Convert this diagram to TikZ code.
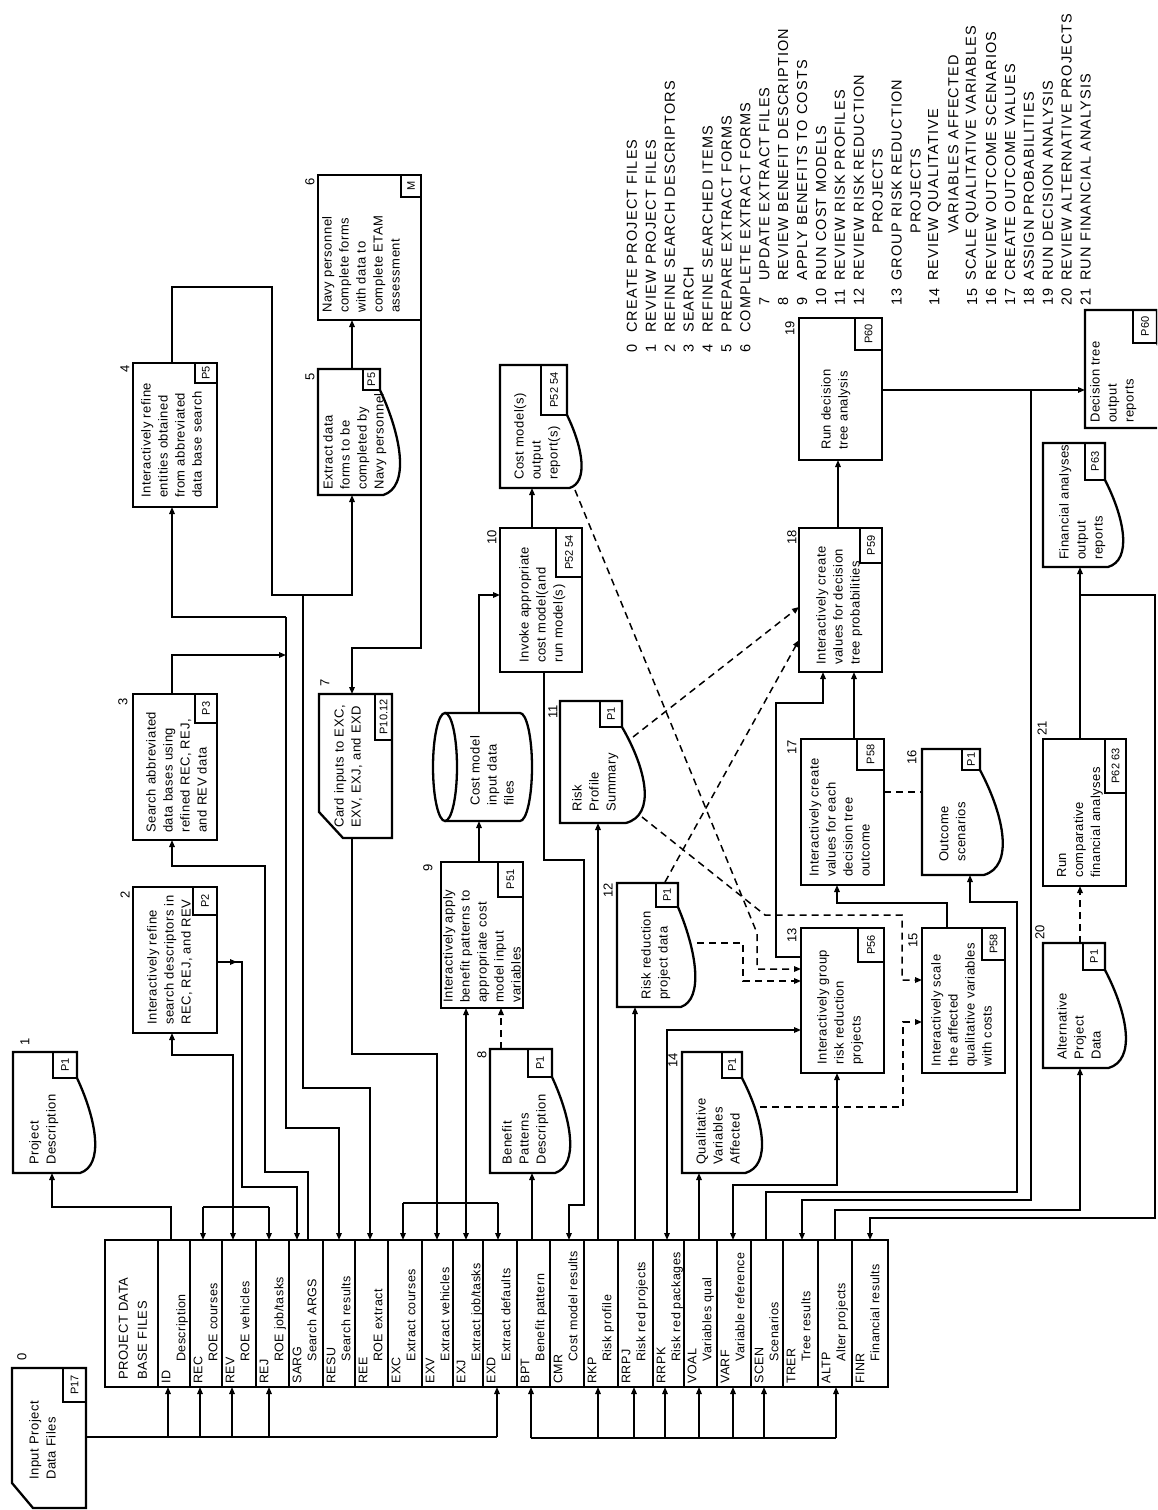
\documentclass[tikz,border=0pt]{standalone}
\usepackage{fontspec}
\setmainfont{Liberation Sans}
\newfontfamily\bxf[LetterSpace=4]{Liberation Sans}
\newfontfamily\lgf[LetterSpace=8]{Liberation Sans}
\usetikzlibrary{arrows.meta}
\tikzset{
  >={Triangle[length=7pt,width=5.5pt]},
  boxline/.style={line width=2.3pt, line join=miter},
  ghost/.style={inner sep=0pt, outer sep=0pt},
  bx/.style={draw, boxline, ghost},
  lblline/.style={line width=1.4pt},
  rot/.style={rotate=90, inner sep=0pt},
  btxt/.style={rot, anchor=north west, align=left, font=\bxf\fontsize{13}{17}\selectfont},
  ptxt/.style={rot, font=\fontsize{11}{11}\selectfont},
  ntxt/.style={rot, font=\fontsize{13}{13}\selectfont},
  dbtxt/.style={rot, anchor=north west, align=left, font=\bxf\fontsize{12.5}{15}\selectfont},
  hdtxt/.style={rot, anchor=north west, align=left, font=\bxf\fontsize{13}{19}\selectfont},
  ltxt/.style={rot, anchor=west, font=\lgf\fontsize{14.5}{19}\selectfont},
  ln/.style={line width=1.5pt},
  ar/.style={ln,->},
  arr/.style={ln,<->},
  dl/.style={ln,dash pattern=on 7pt off 5pt},
  dar/.style={dl,->},
}
\newcommand{\rbx}[5]{\node[bx, minimum width={#4-#2}, minimum height={#5-#3}] (#1) at ({(#2+#4)/2},{(#3+#5)/2}) {};}
\newcommand{\plab}[6]{\draw[lblline] (#2,#3) rectangle (#4,#5); \node[ptxt] (#1) at ({(#2+#4)/2},{(#3+#5)/2}) {#6};}
\newcommand{\docbx}[7]{%
 \draw[boxline] (#2,#3) -- (#4,#3) -- (#4,{#3+#6}) .. controls ({#4+#7},{#3+#6+0.45*(#5-#3-#6)}) and ({#4+1.35*#7},{#5-0.08*(#5-#3-#6)}) .. ({#4+0.15*#7},#5) -- (#2,#5) -- cycle;
 \node[ghost, minimum width={#4-#2}, minimum height={#5-#3}] (#1) at ({(#2+#4)/2},{(#3+#5)/2}) {};}
% legend line: index, number, text, text start, number start
\newcommand{\leg}[5]{\node[ltxt] (lg#1) at ({632+18.9*#1},#4) {#3}; \node[ltxt] (ln#1) at ({632+18.9*#1},#5) {#2};}
\newcommand{\legc}[3]{\node[ltxt] (lg#1) at ({632+18.9*#1},#3) {#2};}
\begin{document}
\begin{tikzpicture}[x=1pt,y=-1pt]
\useasboundingbox (0,0) rectangle (1157,1510);
\clip (0,0) rectangle (1157,1510);
\fill[white] (0,0) rectangle (1157,1510);

% ---------- legend ----------
\leg{0}{0}{CREATE PROJECT FILES}{333}{353}
\leg{1}{1}{REVIEW PROJECT FILES}{333}{353}
\leg{2}{2}{REFINE SEARCH DESCRIPTORS}{333}{353}
\leg{3}{3}{SEARCH}{333}{353}
\leg{4}{4}{REFINE SEARCHED ITEMS}{333}{353}
\leg{5}{5}{PREPARE EXTRACT FORMS}{333}{353}
\leg{6}{6}{COMPLETE EXTRACT FORMS}{333}{353}
\leg{7}{7}{UPDATE EXTRACT FILES}{281}{306}
\leg{8}{8}{REVIEW BENEFIT DESCRIPTION}{281}{306}
\leg{9}{9}{APPLY BENEFITS TO COSTS}{281}{306}
\leg{10}{10}{RUN COST MODELS}{281}{306}
\leg{11}{11}{REVIEW RISK PROFILES}{281}{306}
\leg{12}{12}{REVIEW RISK REDUCTION}{281}{306}
\legc{13}{PROJECTS}{234}
\leg{14}{13}{GROUP RISK REDUCTION}{281}{306}
\legc{15}{PROJECTS}{234}
\leg{16}{14}{REVIEW QUALITATIVE}{281}{306}
\legc{17}{VARIABLES AFFECTED}{234}
\leg{18}{15}{SCALE QUALITATIVE VARIABLES}{281}{306}
\leg{19}{16}{REVIEW OUTCOME SCENARIOS}{281}{306}
\leg{20}{17}{CREATE OUTCOME VALUES}{281}{306}
\leg{21}{18}{ASSIGN PROBABILITIES}{281}{306}
\leg{22}{19}{RUN DECISION ANALYSIS}{281}{306}
\leg{23}{20}{REVIEW ALTERNATIVE PROJECTS}{281}{306}
\leg{24}{21}{RUN FINANCIAL ANALYSIS}{281}{306}

% ---------- database ----------
\node[ghost, minimum width=53, minimum height=147] (dbh) at (131.5,1313.5) {};
\node[hdtxt] (dbht) at (118.5,1380) {PROJECT DATA\\BASE FILES};
\foreach \xa/\xb/\cd/\ds in {158/190/ID/Description,190/222/REC/ROE courses,222/256/REV/ROE vehicles,256/289/REJ/ROE job\slash tasks,289/323/SARG/Search ARGS,323/355/RESU/Search results,355/388/REE/ROE extract,388/422/EXC/Extract courses,422/453/EXV/Extract vehicles,453/483/EXJ/Extract job\slash tasks,483/517/EXD/Extract defaults,517/550/BPT/Benefit pattern,550/584/CMR/Cost model results,584/618/RKP/Risk profile,618/653/RRPJ/Risk red projects,653/684/RRPK/Risk red packages,684/717/VOAL/Variables qual,717/751/VARF/Variable reference,751/783/SCEN/Scenarios,783/818/TRER/Tree results,818/852/ALTP/Alter projects,852/888/FINR/Financial results}{
  \node[draw, line width=1.4pt, ghost, minimum width={\xb-\xa}, minimum height=147] (c\cd) at ({(\xa+\xb)/2},1313.5) {};
  \node[dbtxt] (t\cd) at ({\xa+3.5},1384) {\cd\\\hspace*{22pt}\ds};
}
\draw[boxline] (105,1240) rectangle (888,1387);

% ---------- box 0 ----------
\draw[boxline] (12,1368) -- (86,1368) -- (86,1508) -- (33,1508) -- (12,1483) -- cycle;
\node[ghost, minimum width=74, minimum height=140] (b0) at (49,1438) {};
\plab{b0p}{63}{1368}{86}{1402}{P17}
\node[btxt] (b0t) at (29,1480) {Input Project\\Data Files};
\node[ntxt] (n0) at (22,1357) {0};

% ---------- documents ----------
\docbx{b1}{13}{1052}{77}{1173}{26}{20}
\plab{b1p}{53}{1052}{77}{1078}{P1}
\node[btxt] (b1t) at (29,1165) {Project\\Description};
\node[ntxt] (n1) at (25,1042) {1};

\docbx{b5}{318}{369}{380}{495}{21}{22}
\plab{b5p}{363}{369}{380}{390}{P5}
\node[btxt] (b5t) at (323,490) {Extract data\\forms to be\\completed by\\Navy personnel};
\node[ntxt] (n5) at (310,377) {5};

\docbx{cost}{500}{365}{567}{488}{50}{16}
\plab{costp}{541}{365}{567}{415}{P52 54}
\node[btxt] (costt) at (514,480) {Cost model(s)\\output\\report(s)};

\docbx{b8}{490}{1049}{552}{1173}{28}{20}
\plab{b8p}{528}{1049}{552}{1077}{P1}
\node[btxt] (b8t) at (502,1165) {Benefit\\Patterns\\Description};
\node[ntxt] (n8) at (482,1055) {8};

\docbx{b11}{560}{701}{622}{823}{26}{25}
\plab{b11p}{600}{701}{622}{727}{P1}
\node[btxt] (b11t) at (572,812) {Risk\\Profile\\Summary};
\node[ntxt] (n11) at (553,712) {11};

\docbx{b12}{617}{883}{678}{1007}{24}{19}
\plab{b12p}{656}{883}{678}{907}{P1}
\node[btxt] (b12t) at (641,1000) {Risk reduction\\project data};
\node[ntxt] (n12) at (608,890) {12};

\docbx{b14}{682}{1052}{742}{1173}{26}{22}
\plab{b14p}{722}{1052}{742}{1078}{P1}
\node[btxt] (b14t) at (696,1165) {Qualitative\\Variables\\Affected};
\node[ntxt] (n14) at (673,1060) {14};

\docbx{b16}{922}{749}{980}{875}{21}{25}
\plab{b16p}{962}{749}{980}{770}{P1}
\node[btxt] (b16t) at (939,862) {Outcome\\scenarios};
\node[ntxt] (n16) at (912,757) {16};

\docbx{b20}{1043}{943}{1105}{1068}{27}{23}
\plab{b20p}{1083}{943}{1105}{970}{P1}
\node[btxt] (b20t) at (1057,1060) {Alternative\\Project\\Data};
\node[ntxt] (n20) at (1040,932) {20};

\docbx{fin}{1043}{443}{1105}{567}{37}{20}
\plab{finp}{1085}{443}{1105}{480}{P63}
\node[btxt] (fint) at (1059,560) {Financial analyses\\output\\reports};

\docbx{dt}{1085}{310}{1157}{428}{33}{20}
\plab{dtp}{1133}{310}{1157}{343}{P60}
\node[btxt] (dtt) at (1090,423) {Decision tree\\output\\reports};

% ---------- rectangular boxes ----------
\rbx{b2}{133}{887}{217}{1033}
\plab{b2p}{193}{887}{217}{915}{P2}
\node[btxt] (b2t) at (147,1025) {Interactively refine\\search descriptors in\\REC, REJ, and REV};
\node[ntxt] (n2) at (125,895) {2};

\rbx{b3}{133}{694}{217}{840}
\plab{b3p}{195}{694}{217}{723}{P3}
\node[btxt] (b3t) at (146,833) {Search abbreviated\\data bases using\\refined REC, REJ,\\and REV data};
\node[ntxt] (n3) at (123,702) {3};

\rbx{b4}{133}{363}{217}{507}
\plab{b4p}{195}{363}{217}{383}{P5}
\node[btxt] (b4t) at (141,498) {Interactively refine\\entities obtained\\from abbreviated\\data base search};
\node[ntxt] (n4) at (125,369) {4};

\rbx{b6}{318}{175}{421}{320}
\plab{b6p}{401}{175}{421}{197}{M}
\node[btxt] (b6t) at (322,313) {Navy personnel\\complete forms\\with data to\\complete ETAM\\assessment};
\node[ntxt] (n6) at (310,182) {6};

\draw[boxline] (319,694) -- (392,694) -- (392,838) -- (343,838) -- (319,812) -- cycle;
\node[ghost, minimum width=73, minimum height=144] (b7) at (355.5,766) {};
\plab{b7p}{375}{694}{392}{740}{P10.12}
\node[btxt] (b7t) at (334,828) {Card inputs to EXC,\\EXV, EXJ, and EXD};
\node[ntxt] (n7) at (325,683) {7};

\rbx{b9}{441}{862}{523}{1008}
\plab{b9p}{498}{862}{523}{897}{P51}
\node[btxt] (b9t) at (443,1003) {Interactively apply\\benefit patterns to\\appropriate cost\\model input\\variables};
\node[ntxt] (n9) at (428,868) {9};

\rbx{b10}{500}{528}{582}{672}
\plab{b10p}{556}{528}{582}{577}{P52 54}
\node[btxt] (b10t) at (519,663) {Invoke appropriate\\cost model(and\\run model(s)};
\node[ntxt] (n10) at (492,537) {10};

\rbx{b13}{801}{928}{884}{1073}
\plab{b13p}{858}{928}{884}{962}{P56}
\node[btxt] (b13t) at (817,1065) {Interactively group\\risk reduction\\projects};
\node[ntxt] (n13) at (792,935) {13};

\rbx{b15}{922}{928}{1005}{1073}
\plab{b15p}{982}{928}{1005}{960}{P58}
\node[btxt] (b15t) at (931,1067) {Interactively scale\\the affected\\qualitative variables\\with costs};
\node[ntxt] (n15) at (913,940) {15};

\rbx{b17}{801}{739}{884}{885}
\plab{b17p}{857}{739}{884}{770}{P58}
\node[btxt] (b17t) at (809,877) {Interactively create\\values for each\\decision tree\\outcome};
\node[ntxt] (n17) at (792,747) {17};

\rbx{b18}{799}{528}{882}{672}
\plab{b18p}{860}{528}{882}{563}{P59}
\node[btxt] (b18t) at (816,665) {Interactively create\\values for decision\\tree probabilities};
\node[ntxt] (n18) at (792,537) {18};

\rbx{b19}{799}{318}{882}{460}
\plab{b19p}{855}{318}{882}{350}{P60}
\node[btxt] (b19t) at (821,450) {Run decision\\tree analysis};
\node[ntxt] (n19) at (790,328) {19};

\rbx{b21}{1043}{739}{1126}{886}
\plab{b21p}{1105}{739}{1126}{793}{P62 63}
\node[btxt] (b21t) at (1057,878) {Run\\comparative\\financial analyses};
\node[ntxt] (n21) at (1042,728) {21};

% cylinder
\node[ghost, minimum width=99, minimum height=108] (cyl) at (483,767) {};
\draw[boxline] (445,767) ellipse [x radius=12, y radius=54];
\draw[boxline] (445,713) -- (520,713) arc[start angle=-90, end angle=90, x radius=12, y radius=54] -- (445,821);
\node[btxt] (cylt) at (470,806) {Cost model\\input data\\files};

% ---------- connectors ----------
\draw[ln] (b0.east |- 0,1437) -- (497,1437);
\foreach \x/\c in {168/ID,200/REC,232/REV,269/REJ,497/EXD} \draw[ar] (\x,1437) -- (c\c.south -| \x,0);
\draw[ln] (531,1438) -- (836,1438);
\foreach \x/\c in {531/BPT,598/RKP,634/RRPJ,665/RRPK,699/VOAL,733/VARF,764/SCEN,836/ALTP} \draw[ar] (\x,1438) -- (c\c.south -| \x,0);

\draw[ar] (cID.north -| 171,0) -- (171,1207) -- (52,1207) -- (b1.south -| 52,0);
\draw[arr] (b2.south -| 172,0) |- (233,1055) -- (cREV.north -| 233,0);
\draw[ln] (203,1207) -- (269,1207);
\draw[ar] (203,1207) -- (cREC.north -| 203,0);
\draw[ar] (269,1207) -- (cREJ.north -| 269,0);
\draw[ar] (b2.east |- 0,962) -- (242,962) -- (242,1187) -- (297,1187) -- (cSARG.north -| 297,0);
\draw[ar] (b2.east |- 0,962) -- (237,962);
\draw[ar] (cSARG.north -| 308,0) -- (308,1172) -- (265,1172) -- (265,866) -- (172,866) -- (b3.south -| 172,0);
\draw[ar] (b3.north -| 172,0) -- (172,655) -- (286,655);
\draw[ar] (286,617) -- (172,617) -- (b4.south -| 172,0);
\draw[ar] (286,617) -- (286,1128) -- (339,1128) -- (cRESU.north -| 339,0);
\draw[ar] (b4.north -| 172,0) -- (172,287) -- (272,287) -- (272,595) -- (352,595) -- (b5.south -| 352,0);
\draw[ar] (303,595) -- (303,1088) -- (370,1088) -- (cREE.north -| 370,0);
\draw[ar] (b5.north -| 352,0) -- (b6.south -| 352,0);
\draw[ar] (b6.east |- 0,248) -- (421,648) -- (352,648) -- (b7.north -| 352,0);
\draw[ln] (b7.south -| 352,0) -- (352,1054) -- (437,1054) -- (437,1203);
\draw[ln] (403,1203) -- (498,1203);
\foreach \x/\c in {403/EXC,437/EXV,466/EXJ,498/EXD} \draw[ar] (\x,1203) -- (c\c.north -| \x,0);
\draw[ar] (466,1203) -- (b9.south -| 466,0);
\draw[dar] (b8.north -| 501,0) -- (b9.south -| 501,0);
\draw[ar] (cBPT.north -| 532,0) -- (b8.south -| 532,0);
\draw[ar] (b9.north -| 479,0) -- (cyl.south -| 479,0);
\draw[ar] (cyl.north -| 479,0) -- (479,595) -- (b10.west |- 0,595);
\draw[ar] (b10.north -| 532,0) -- (cost.south -| 532,0);
\draw[ar] (b10.south -| 544,0) -- (544,860) -- (584,860) -- (584,1205) -- (569,1205) -- (cCMR.north -| 569,0);
\draw[ar] (cRKP.north -| 598,0) -- (b11.south -| 598,0);
\draw[ar] (cRRPJ.north -| 635,0) -- (b12.south -| 635,0);
\draw[arr] (cRRPK.north -| 667,0) -- (667,1030) -- (b13.west |- 0,1030);
\draw[ar] (cVOAL.north -| 699,0) -- (b14.south -| 699,0);
\draw[arr] (cVARF.north -| 733,0) -- (733,1185) -- (837,1185) -- (b13.south -| 837,0);
\draw[ar] (cSCEN.north -| 766,0) -- (766,1192) -- (1017,1192) -- (1017,902) -- (970,902) -- (b16.south -| 970,0);
\draw[ar] (b19.east |- 0,390) -- (dt.west |- 0,390);
\draw[ar] (1031,390) -- (1031,1200) -- (802,1200) -- (cTRER.north -| 802,0);
\draw[ar] (cALTP.north -| 835,0) -- (835,1210) -- (1080,1210) -- (b20.south -| 1080,0);
\draw[ar] (b21.north -| 1080,0) -- (fin.south -| 1080,0);
\draw[ar] (1080,595) -- (1155,595) -- (1155,1218) -- (870,1218) -- (cFINR.north -| 870,0);
\draw[dar] (b20.north -| 1080,0) -- (b21.south -| 1080,0);
\draw[ar] (b18.north -| 838,0) -- (b19.south -| 838,0);
\draw[ar] (b17.north -| 854,0) -- (b18.south -| 854,0);
\draw[ar] (b13.west |- 0,957) -- (776,957) -- (776,703) -- (823,703) -- (b18.south -| 823,0);
\draw[ar] (b15.north -| 947,0) -- (947,903) -- (837,903) -- (b17.south -| 837,0);
\draw[dl] (b17.east |- 0,792) -- (b16.west |- 0,792);
\draw[dar] (697,943) -- (743,943) -- (743,981) -- (b13.west |- 0,981);
\draw[dar] (575,490) -- (757,933) -- (757,969) -- (b13.west |- 0,969);
\draw[dar] (642,817) -- (765,915) -- (902,915) -- (902,980) -- (b15.west |- 0,980);
\draw[dar] (760,1107) -- (903,1107) -- (903,1022) -- (b15.west |- 0,1022);
\draw[dar] (633,737) -- (b18.west |- 0,607);
\draw[dar] (665,882) -- (b18.west |- 0,640);
\end{tikzpicture}
\end{document}
